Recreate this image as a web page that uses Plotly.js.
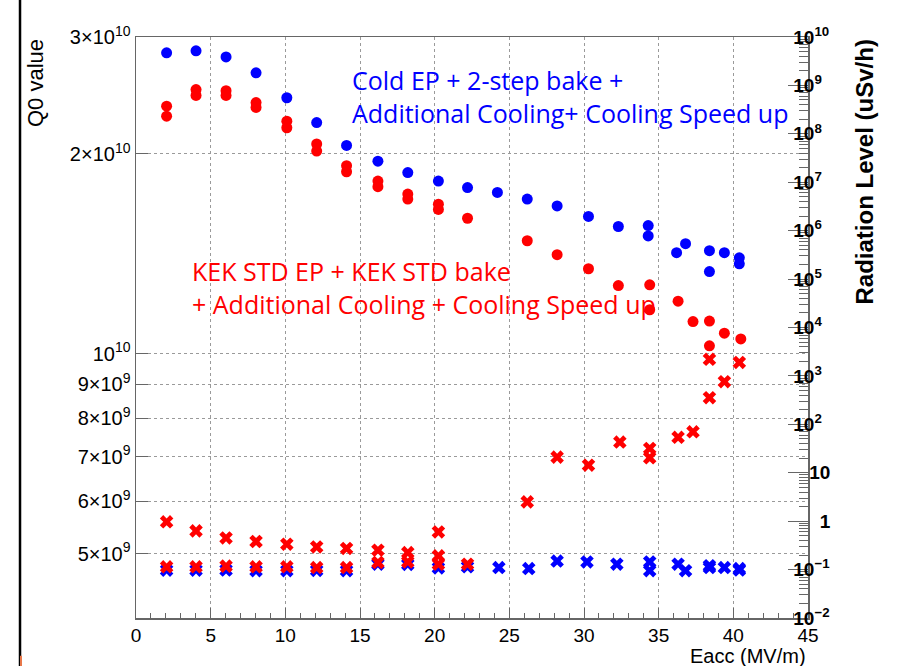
<!DOCTYPE html>
<html>
<head>
<meta charset="utf-8">
<script src="https://cdn.plot.ly/plotly-3.0.1.min.js"></script>
<style>
  html, body { margin: 0; padding: 0; background: #fff; }
  #chart { width: 897px; height: 666px; }
</style>
</head>
<body>
<div id="chart"></div>
<script>
// ---- Data ----
// Q0 values, Cold EP + 2-step bake (blue circles, left axis)
const eaccColdQ0 = [2.05, 4.02, 6.03, 8.04, 10.1, 12.1, 14.1, 16.2, 18.2, 20.25, 22.2, 24.2, 26.2, 28.2, 30.3, 32.3, 34.3, 34.3, 36.2, 36.8, 38.4, 38.4, 39.4, 40.4, 40.4];
const q0Cold = [2.84e10, 2.86e10, 2.80e10, 2.65e10, 2.43e10, 2.23e10, 2.06e10, 1.95e10, 1.875e10, 1.82e10, 1.78e10, 1.75e10, 1.71e10, 1.67e10, 1.61e10, 1.555e10, 1.56e10, 1.505e10, 1.42e10, 1.465e10, 1.43e10, 1.33e10, 1.42e10, 1.395e10, 1.366e10];

// Q0 values, KEK STD EP + KEK STD bake (red circles, left axis)
const eaccKekQ0 = [2.05, 2.05, 4.02, 4.02, 6.03, 6.03, 8.04, 8.04, 10.1, 10.1, 12.1, 12.1, 14.1, 14.1, 16.2, 16.2, 18.2, 18.2, 20.25, 20.25, 22.2, 26.2, 28.2, 30.3, 32.3, 34.4, 34.4, 36.3, 37.3, 38.4, 38.4, 39.4, 40.5];
const q0Kek = [2.36e10, 2.28e10, 2.50e10, 2.45e10, 2.49e10, 2.45e10, 2.39e10, 2.35e10, 2.24e10, 2.19e10, 2.07e10, 2.02e10, 1.92e10, 1.88e10, 1.82e10, 1.785e10, 1.74e10, 1.71e10, 1.68e10, 1.65e10, 1.60e10, 1.48e10, 1.41e10, 1.343e10, 1.267e10, 1.27e10, 1.165e10, 1.20e10, 1.118e10, 1.12e10, 1.028e10, 1.074e10, 1.053e10];

// Radiation, Cold EP (blue crosses, right axis)
const eaccColdRad = [2.05, 4.02, 6.03, 8.04, 10.1, 12.1, 14.1, 16.2, 18.2, 20.25, 22.2, 24.3, 26.3, 28.2, 30.2, 32.2, 34.4, 34.4, 36.3, 36.8, 38.4, 38.4, 39.4, 40.4, 40.4];
const radCold = [0.097, 0.097, 0.098, 0.095, 0.095, 0.096, 0.095, 0.129, 0.128, 0.108, 0.114, 0.11, 0.105, 0.15, 0.144, 0.129, 0.144, 0.095, 0.129, 0.095, 0.12, 0.11, 0.11, 0.105, 0.098];

// Radiation, KEK STD (red crosses, right axis)
const eaccKekRad = [2.05, 2.05, 4.02, 4.02, 6.03, 6.03, 8.04, 8.04, 10.1, 10.1, 12.1, 12.1, 14.1, 14.1, 16.2, 16.2, 18.2, 18.2, 20.25, 20.25, 20.25, 22.2, 26.2, 28.2, 30.3, 32.4, 34.4, 34.4, 36.3, 37.3, 38.4, 38.4, 39.4, 40.4];
const radKek = [0.97, 0.114, 0.63, 0.114, 0.45, 0.118, 0.38, 0.114, 0.335, 0.114, 0.294, 0.11, 0.273, 0.11, 0.251, 0.14, 0.225, 0.144, 0.60, 0.192, 0.129, 0.129, 2.5, 21, 14.3, 43, 31.8, 20.4, 54, 70, 2200, 355, 760, 1900];

// Tick labels
const q0TickVals = [5e9, 6e9, 7e9, 8e9, 9e9, 1e10, 2e10, 3e10];
const q0TickText = ['5×10<sup>9</sup>', '6×10<sup>9</sup>', '7×10<sup>9</sup>', '8×10<sup>9</sup>', '9×10<sup>9</sup>', '10<sup>10</sup>', '2×10<sup>10</sup>', '3×10<sup>10</sup>'];
const radTickVals = [1e-2, 1e-1, 1, 10, 1e2, 1e3, 1e4, 1e5, 1e6, 1e7, 1e8, 1e9, 1e10];
const radTickText = ['10<sup>−2</sup>', '10<sup>−1</sup>', '&nbsp;&nbsp;&nbsp;&nbsp;&nbsp;1', '&nbsp;&nbsp;&nbsp;10', '10<sup>2</sup>', '10<sup>3</sup>', '10<sup>4</sup>', '10<sup>5</sup>', '10<sup>6</sup>', '10<sup>7</sup>', '10<sup>8</sup>', '10<sup>9</sup>', '10<sup>10</sup>'];

const BLUE = '#0000ff', RED = '#ff0000';
const AX = '#666666';
const GRID = '#9a9a9a';

const traces = [
  { x: eaccColdRad, y: radCold, yaxis: 'y2', type: 'scatter', mode: 'markers', name: 'Rad Cold EP',
    marker: { symbol: 'x', size: 12, color: BLUE } },
  { x: eaccKekRad, y: radKek, yaxis: 'y2', type: 'scatter', mode: 'markers', name: 'Rad KEK STD',
    marker: { symbol: 'x', size: 12, color: RED } },
  { x: eaccColdQ0, y: q0Cold, type: 'scatter', mode: 'markers', name: 'Q0 Cold EP',
    marker: { symbol: 'circle', size: 11, color: BLUE } },
  { x: eaccKekQ0, y: q0Kek, type: 'scatter', mode: 'markers', name: 'Q0 KEK STD',
    marker: { symbol: 'circle', size: 11, color: RED } }
];

const FAM = 'Liberation Sans, Arial, sans-serif';
const noteFont = (c) => ({ family: 'Open Sans, Noto Sans, sans-serif', size: 25, color: c });

const layout = {
  width: 897, height: 666,
  margin: { l: 136, r: 89, t: 37, b: 48, pad: 0 },
  paper_bgcolor: '#fff', plot_bgcolor: '#fff',
  showlegend: false,
  xaxis: {
    range: [0, 45], tickmode: 'linear', tick0: 0, dtick: 5,
    ticks: 'inside', ticklen: 10, tickcolor: AX, tickwidth: 1,
    minor: { dtick: 1, ticks: 'inside', ticklen: 5, tickcolor: AX, showgrid: false },
    showline: true, linecolor: AX, linewidth: 1.5, mirror: true,
    showgrid: true, gridcolor: GRID, griddash: 'dot', gridwidth: 1,
    zeroline: false, tickfont: { family: FAM, size: 19, color: '#000' }
  },
  yaxis: {
    type: 'log', range: [Math.log10(4e9), Math.log10(3e10)],
    tickmode: 'array', tickvals: q0TickVals, ticktext: q0TickText,
    ticks: 'inside', ticklen: 12, tickcolor: AX,
    showline: true, linecolor: AX, linewidth: 1.5,
    showgrid: true, gridcolor: GRID, griddash: 'dot', gridwidth: 1,
    zeroline: false, tickfont: { family: FAM, size: 20, color: '#000' }
  },
  yaxis2: {
    type: 'log', range: [-2, 10], overlaying: 'y', side: 'right',
    tickmode: 'array', tickvals: radTickVals, ticktext: radTickText,
    ticks: 'inside', ticklen: 20, tickcolor: AX,
    minor: { dtick: 'D1', ticks: 'inside', ticklen: 9, tickcolor: AX, showgrid: false },
    showline: true, linecolor: AX, linewidth: 1.5,
    showgrid: false, zeroline: false,
    ticklabelstandoff: -20,
    tickfont: { family: FAM, size: 19, color: '#000', weight: 'bold' }
  },
  annotations: [
    { text: 'Cold EP + 2-step bake +', xref: 'paper', yref: 'paper', x: 0.3185, y: 0.926,
      xanchor: 'left', yanchor: 'middle', showarrow: false, font: noteFont(BLUE) },
    { text: 'Additional Cooling+ Cooling Speed up', xref: 'paper', yref: 'paper', x: 0.3185, y: 0.869,
      xanchor: 'left', yanchor: 'middle', showarrow: false, font: noteFont(BLUE) },
    { text: 'KEK STD EP + KEK STD bake', xref: 'paper', yref: 'paper', x: 0.0804, y: 0.597,
      xanchor: 'left', yanchor: 'middle', showarrow: false, font: noteFont(RED) },
    { text: '+ Additional Cooling + Cooling Speed up', xref: 'paper', yref: 'paper', x: 0.0804, y: 0.540,
      xanchor: 'left', yanchor: 'middle', showarrow: false, font: noteFont(RED) },
    { text: 'Q0 value', xref: 'paper', yref: 'paper', x: -0.1503, y: 1.0, textangle: -90,
      xanchor: 'center', yanchor: 'top', showarrow: false,
      font: { family: FAM, size: 22, color: '#000' } },
    { text: 'Radiation Level (uSv/h)', xref: 'paper', yref: 'paper', x: 1.0848, y: 1.0, textangle: -90,
      xanchor: 'center', yanchor: 'top', showarrow: false,
      font: { family: FAM, size: 24, color: '#000', weight: 'bold' } },
    { text: 'Eacc (MV/m)', xref: 'paper', yref: 'paper', x: 1.0, y: -0.0654,
      xanchor: 'right', yanchor: 'middle', showarrow: false,
      font: { family: FAM, size: 20, color: '#000' } }
  ],
  shapes: [
    { type: 'line', xref: 'paper', yref: 'paper', x0: -0.1726, x1: -0.1726, y0: -0.09, y1: 1.07,
      line: { color: '#000', width: 2.5 } },
    { type: 'line', xref: 'paper', yref: 'paper', x0: -0.1711, x1: -0.1711, y0: -0.09, y1: -0.065,
      line: { color: '#e8784a', width: 2 } }
  ]
};

Plotly.newPlot('chart', traces, layout, { displayModeBar: false, staticPlot: true });
</script>
</body>
</html>
